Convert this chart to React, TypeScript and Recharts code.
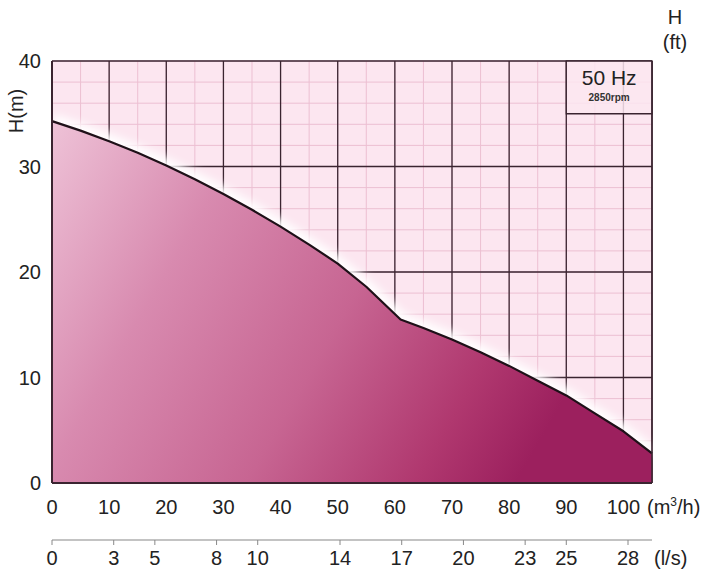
import * as React from 'react';
import { ComposedChart, Area, XAxis, YAxis, CartesianGrid, ReferenceArea } from 'recharts';

// pump curve, 50 Hz / 2850 rpm
const flow = [0, 5, 10, 15, 20, 25, 30, 35, 40, 45, 50, 55, 61, 65, 70, 75, 80, 85, 90, 95, 100, 105];
const head = [34.3, 33.4, 32.4, 31.3, 30.1, 28.8, 27.4, 25.9, 24.3, 22.6, 20.8, 18.6, 15.5, 14.7, 13.6, 12.4, 11.1, 9.7, 8.3, 6.6, 4.9, 2.8];

const flowTicks = [0, 10, 20, 30, 40, 50, 60, 70, 80, 90, 100];
const headTicks = [0, 10, 20, 30, 40];
const feetTicks = [0, 25, 50, 75, 100, 125];
const litreTicks = [0, 3, 5, 8, 10, 14, 17, 20, 23, 25, 28];

const majorX = [0, 10, 20, 30, 40, 50, 60, 70, 80, 90, 100, 105];
const majorY = [0, 10, 20, 30, 40];
const minorX = [0, 5, 10, 15, 20, 25, 30, 35, 40, 45, 50, 55, 60, 65, 70, 75, 80, 85, 90, 95, 100, 105];
const minorY = [0, 2, 4, 6, 8, 10, 12, 14, 16, 18, 20, 22, 24, 26, 28, 30, 32, 34, 36, 38, 40];

const M_TO_FT = 3.28084;
const LS_TO_M3H = 3.6;

const data = flow.map((q, i) => ({ q, h: head[i] }));

const FONT = '"Liberation Sans", Arial, sans-serif';
const INK = '#3a2430';
const tickStyle = { fill: '#222', fontSize: 20, fontFamily: FONT };

export default function App() {
  return (
    <div style={{ position: 'absolute', left: 0, top: 0, width: 715, height: 574, background: '#fff' }}>
      <style>{`.glow-area { filter: blur(5px); }`}</style>
      <ComposedChart
        width={715}
        height={574}
        data={data}
        margin={{ top: 61, right: 13, bottom: 0, left: 12 }}
      >
        <defs>
          <linearGradient id="pumpFill" x1="0" y1="0" x2="1" y2="0.35">
            <stop offset="0" stopColor="#eec2d7" />
            <stop offset="0.3" stopColor="#d88aaf" />
            <stop offset="0.6" stopColor="#c76592" />
            <stop offset="0.85" stopColor="#b0386f" />
            <stop offset="1" stopColor="#9c205e" />
          </linearGradient>
        </defs>

        <CartesianGrid
          xAxisId="flow"
          yAxisId="m"
          fill="#fce6f0"
          fillOpacity={1}
          stroke="#ecbfd2"
          strokeWidth={1}
          verticalValues={minorX}
          horizontalValues={minorY}
        />
        <CartesianGrid
          xAxisId="flow"
          yAxisId="m"
          stroke={INK}
          strokeWidth={1.3}
          verticalValues={majorX}
          horizontalValues={majorY}
        />

        <XAxis
          xAxisId="flow"
          dataKey="q"
          type="number"
          domain={[0, 105]}
          ticks={flowTicks}
          interval={0}
          height={57}
          tickLine={false}
          tickSize={6}
          tickMargin={11}
          axisLine={{ stroke: INK, strokeWidth: 2 }}
          tick={tickStyle}
          label={(p: any) => (
            <text x={p.viewBox.x + p.viewBox.width - 5} y={p.viewBox.y + 31} fill="#222" fontSize={20} fontFamily={FONT}>
              (m<tspan fontSize={12} dy={-8}>3</tspan><tspan dy={8}>/h)</tspan>
            </text>
          )}
        />
        <XAxis
          xAxisId="lps"
          dataKey="q"
          type="number"
          domain={[0, 105]}
          ticks={litreTicks.map((v) => v * LS_TO_M3H)}
          tickFormatter={(v: number) => String(Math.round(v / LS_TO_M3H))}
          interval={0}
          height={34}
          tickSize={5}
          tickMargin={6}
          tickLine={{ stroke: '#888' }}
          axisLine={{ stroke: '#888', strokeWidth: 1.2 }}
          tick={tickStyle}
          label={(p: any) => (
            <text x={p.viewBox.x + p.viewBox.width + 2} y={p.viewBox.y + 25} fill="#222" fontSize={20} fontFamily={FONT}>
              (l/s)
            </text>
          )}
        />

        <YAxis
          yAxisId="m"
          type="number"
          domain={[0, 40]}
          ticks={headTicks}
          interval={0}
          width={40}
          tickLine={false}
          tickSize={6}
          tickMargin={5}
          axisLine={{ stroke: INK, strokeWidth: 2 }}
          tick={tickStyle}
          label={(p: any) => (
            <text
              x={p.viewBox.x + 11}
              y={p.viewBox.y + 50}
              transform={`rotate(-90 ${p.viewBox.x + 11} ${p.viewBox.y + 50})`}
              textAnchor="middle"
              fill="#222"
              fontSize={20}
              fontFamily={FONT}
            >
              H(m)
            </text>
          )}
        />
        <YAxis
          yAxisId="ft"
          orientation="right"
          type="number"
          domain={[0, 40 * M_TO_FT]}
          ticks={feetTicks}
          interval={0}
          width={50}
          tickSize={5}
          tickMargin={5}
          tickLine={{ stroke: '#444' }}
          axisLine={{ stroke: INK, strokeWidth: 1.5 }}
          tick={tickStyle}
          label={(p: any) => (
            <g>
              <text x={p.viewBox.x + 23} y={p.viewBox.y - 37} textAnchor="middle" fill="#222" fontSize={20} fontFamily={FONT}>
                H
              </text>
              <text x={p.viewBox.x + 23} y={p.viewBox.y - 12} textAnchor="middle" fill="#222" fontSize={20} fontFamily={FONT}>
                (ft)
              </text>
            </g>
          )}
        />

        <ReferenceArea
          xAxisId="flow"
          yAxisId="m"
          x1={90}
          x2={105}
          y1={35}
          y2={40}
          fill="#fce6f0"
          fillOpacity={0.85}
          stroke={INK}
          strokeWidth={1.3}
          label={(p: any) => (
            <g>
              <text x={p.viewBox.x + p.viewBox.width / 2} y={p.viewBox.y + 24} textAnchor="middle" fill="#222" fontSize={21} fontFamily={FONT}>
                50 Hz
              </text>
              <text x={p.viewBox.x + p.viewBox.width / 2} y={p.viewBox.y + 40} textAnchor="middle" fill="#333" fontSize={10} fontWeight={600} fontFamily={FONT}>
                2850rpm
              </text>
            </g>
          )}
        />

        <Area
          className="glow-area"
          xAxisId="flow"
          yAxisId="m"
          dataKey="h"
          type="linear"
          stroke="#ffffff"
          strokeWidth={14}
          fill="none"
          isAnimationActive={false}
        />
        <Area
          xAxisId="flow"
          yAxisId="m"
          dataKey="h"
          type="linear"
          stroke="#1e1018"
          strokeWidth={2.2}
          strokeLinejoin="round"
          fill="url(#pumpFill)"
          fillOpacity={1}
          isAnimationActive={false}
        />
      </ComposedChart>
    </div>
  );
}
